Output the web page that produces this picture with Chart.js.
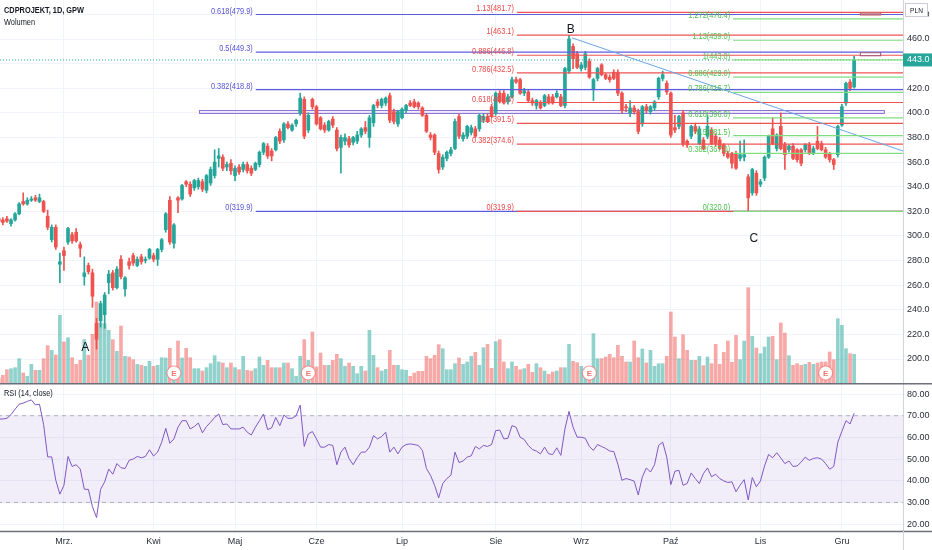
<!DOCTYPE html>
<html>
<head>
<meta charset="utf-8">
<script src="https://cdn.jsdelivr.net/npm/chart.js@4.4.1/dist/chart.umd.min.js"></script>
<style>
html,body{margin:0;padding:0;background:#ffffff;overflow:hidden;}
#wrap{position:relative;width:932px;height:550px;}
canvas{position:absolute;left:0;display:block;}
#cMain{top:0;}
#cRsi{top:383px;}
</style>
</head>
<body>
<div id="wrap">
<canvas id="cMain" width="932" height="383"></canvas>
<canvas id="cRsi" width="932" height="167"></canvas>
</div>
<script>
// ---------- DATA ----------
const opens = [314,313,314,310,313,318,328,326,329,331,
 328,328,316,297,307,277,288,295,301,303,
 293,267,276,270,229,231,236,262,270,258,
 281,257,279,284,276,283,280,282,284,281,
 289,305,329,294,331,330,344,342,339,340,
 344,337,343,349,363,364,356,359,349,356,
 354,358,355,354,358,368,373,369,370,385,
 378,391,386,391,400,411,386,411,405,396,
 390,386,395,386,372,377,379,376,377,382,
 388,380,392,409,406,408,414,401,391,396,
 402,408,409,408,404,398,382,382,367,356,
 363,367,371,397,379,381,384,387,387,394,
 397,405,400,416,416,409,413,427,427,416,
 417,410,406,408,406,413,413,413,413,406,
 434,454,448,436,437,442,419,428,439,431,
 429,433,433,416,405,400,404,401,391,405,
 401,404,413,428,424,416,388,389,400,377,
 381,389,375,378,381,386,381,378,374,367,
 367,367,363,364,348,335,351,342,347,364,
 387,371,389,374,370,373,370,370,370,374,
 367,377,375,370,367,362,366,390,408,425,
 421];
const highs = [316,315,316,314,319,327,335,331,332,333,
 334,329,321,309,309,286,291,307,303,306,
 295,283,278,273,233,247,254,272,272,275,
 284,267,282,286,283,285,283,290,286,290,
 298,319,332,310,332,342,345,344,346,347,
 346,350,356,370,371,366,360,362,357,358,
 360,360,357,360,369,376,375,371,381,387,
 392,393,391,395,416,413,400,412,406,397,
 392,394,397,388,382,383,381,381,385,388,
 393,398,407,411,412,413,416,403,402,404,
 407,410,411,409,405,399,384,383,369,366,
 369,372,395,399,384,390,390,389,399,399,
 399,407,417,418,418,415,429,429,428,420,
 419,412,411,410,415,415,415,418,415,437,
 463,456,450,441,450,444,428,437,440,432,
 431,435,435,417,407,410,406,403,406,407,
 406,410,429,434,426,417,398,398,402,378,
 390,391,389,380,398,388,383,380,375,369,
 368,369,377,378,350,355,353,346,365,382,
 396,383,400,376,374,375,371,371,375,376,
 373,389,377,372,368,363,390,407,425,427,
 446];
const lows = [310,309,311,308,312,317,325,325,328,328,
 327,319,305,295,289,262,272,293,294,295,
 283,260,269,242,208,226,225,253,256,257,
 265,251,273,276,275,277,278,281,279,276,
 287,303,293,290,319,329,340,332,337,338,
 336,335,341,347,356,353,353,350,345,350,
 352,351,349,353,356,366,363,361,369,375,
 376,387,385,389,398,379,384,403,390,386,
 384,385,388,369,351,374,372,374,375,380,
 383,372,389,404,404,406,392,391,389,395,
 400,405,404,403,397,384,378,366,351,354,
 361,365,370,379,377,379,382,380,385,392,
 392,396,398,408,407,407,412,424,415,414,
 409,406,403,403,405,407,407,412,405,404,
 432,436,436,434,435,428,410,426,430,427,
 425,427,414,400,401,397,399,383,389,400,
 399,402,411,426,415,380,384,387,373,372,
 379,383,374,370,379,374,373,370,365,363,
 355,354,361,361,320,333,333,340,345,363,
 374,369,370,354,368,362,360,357,368,366,
 366,370,369,363,360,354,364,389,406,418,
 420];
const closes = [312,311,312,313,318,326,326,329,330,329,
 331,320,307,307,291,279,284,306,296,296,
 290,270,271,251,216,245,252,269,258,273,
 267,266,276,278,281,279,281,289,281,289,
 297,318,295,309,329,341,342,334,345,345,
 338,349,354,360,365,355,358,353,355,352,
 358,353,351,359,368,375,365,365,380,377,
 391,388,390,394,412,381,398,405,391,387,
 386,393,390,371,380,380,374,380,382,387,
 385,396,406,406,411,412,394,393,401,403,
 406,406,405,405,398,385,380,368,354,364,
 368,370,393,381,382,389,388,381,398,397,
 393,397,416,409,408,413,427,425,416,418,
 410,408,410,404,414,408,408,416,406,436,
 460,444,437,439,448,429,427,436,431,428,
 427,428,416,402,404,404,401,385,405,402,
 405,409,428,431,417,382,386,397,375,374,
 389,385,387,371,389,375,375,371,367,364,
 359,355,366,366,331,354,335,344,364,381,
 375,382,371,366,373,363,362,359,374,367,
 371,371,370,364,362,358,389,405,424,420,
 443];
const volumes = [125,192,333,358,383,608,250,167,467,317,
 317,608,933,817,700,1692,1025,1133,633,467,
 567,1083,692,1217,2025,1500,1483,1317,1083,792,
 1425,667,650,583,467,442,417,542,417,442,
 633,625,867,383,1050,625,867,633,358,358,
 300,383,483,683,525,500,383,500,383,333,
 667,317,300,358,650,442,567,383,383,383,
 500,500,358,167,667,1083,567,1275,400,750,
 442,442,567,717,608,417,500,417,233,417,
 300,1317,692,383,300,342,817,442,442,333,
 317,167,250,292,292,667,608,692,958,858,
 333,333,483,625,467,525,667,767,442,883,
 967,367,1033,1083,525,358,525,417,333,358,
 467,267,483,383,300,217,275,300,383,383,
 967,542,508,417,350,300,1233,608,608,650,
 717,633,942,667,525,525,1050,633,850,500,
 817,417,483,483,667,1775,1150,608,1208,817,
 567,567,667,433,650,483,967,467,767,1050,
 517,1192,583,1050,2383,1167,875,733,900,1150,
 1167,583,1500,1250,683,442,483,442,467,517,
 467,500,525,525,775,583,1608,1442,858,733,
 717];
const rsiValues = [68.5,68.5,68.8,70.5,73,75.3,75.8,76.6,77.3,75,
 75.3,66,51,51,40.2,33.8,37.9,51.2,46.6,47.4,
 45.4,36.1,36,28,23,36,39.5,45.4,43,47.9,
 46,45.6,49.4,50,51.2,50.6,51.2,54.3,51.4,53.2,
 57.8,64.2,57.3,59.3,64.7,67.7,67.7,63.9,65,66.6,
 62.1,65,67,69.2,70.8,65.9,66.2,63.9,63.9,63.9,
 64.7,62.4,61.1,64.7,67.7,70.8,63.6,64.4,69.2,65.4,
 70.3,68.8,68.8,70,74.9,55.8,61.6,62.7,59.3,55.5,
 55.5,56.7,56.3,47.4,53.2,55.5,50.2,47.4,50.6,53.2,
 53.2,55.5,60.8,59.3,60.4,62.4,53.2,55.5,52.4,55.5,
 56.7,57,56.7,56.3,54,45.6,42.5,37.9,32.1,38.7,
 41,42.5,53.2,48.4,49.1,50.9,51.5,55.8,54.7,56.3,
 55.8,56.7,63.1,63.4,59.3,59.6,65.4,64.7,60.1,59,
 56.3,54.4,53.7,52.4,55.5,52.4,52.1,55.2,51.7,63.9,
 72,64.7,60.1,60.1,59.6,55.8,54,56.7,55.8,54.9,
 53.7,53.5,47.6,40.2,41,40.5,39.8,33.4,41.8,45.9,
 44,47.4,56.3,57.8,50.9,38.2,44.4,44.8,37.9,38.7,
 43.6,41,38.7,43.3,45.9,41.8,43,41,39.9,39.2,
 39.5,34.9,37.9,40.5,31.1,41.5,37.2,39.9,46.8,52.1,
 50.6,52.9,50.5,47.9,49.1,46.6,46.8,48.6,50.9,49.4,
 50.3,50.6,50,47.9,45.3,46.6,57.8,62.8,67.7,66.2,
 71.1];

const monthLabels = ['Mrz.','Kwi','Maj','Cze','Lip','Sie','Wrz','Paź','Lis','Gru'];
const monthIdx = [16,38,58,78,99,122,143,165,187,207];
const priceTicks = [200,220,240,260,280,300,320,340,360,380,400,420,440,460,480];
const rsiTicks = [20,30,40,50,60,70,80];

const blueFibLevels = [0,0.382,0.5,0.618];
const blueFibValues = [319.9,418.8,449.3,479.9];
const redFibLevels = [0,0.382,0.5,0.618,0.786,0.886,1,1.13];
const redFibValues = [319.9,374.6,391.5,408.4,432.5,446.8,463.1,481.7];
const greenFibLevels = [0,0.382,0.5,0.618,0.786,0.886,1,1.13,1.272];
const greenFibValues = [320.0,367.0,381.5,396.0,416.7,429.0,443.0,459.0,476.4];
const fibStartIdx = [63.1,127.2,180.3];          // blue, red, green
const trendIdx = [140.7,222];
const trendPrice = [461,369];
const rangeBoxIdx = [49.15,217.3];
const rangeBoxPrice = [399.9,402.3];
const smallBoxIdx = [211.4,216.4];
const waveLabels = ['A','B','C'];
const waveIdx = [21.2,140.4,185.4];
const wavePrice = [208.9,467.3,297.5];
const earningsIdx = [43,76,145,203];
const lastPrice = 443.0;

// ---------- STYLE ----------
const FONT = "'Liberation Sans',Arial,sans-serif";
const TXT = '#2a2e39';
const UP = '#26a69a', DN = '#ef5350';
const xMin = 0.3, xMax = 222.0;
const NARROW = 0.82;

const isUp = closes.map((c,i)=>c>=opens[i]);
const candleColors = isUp.map(u=>u?UP:DN);
const volColors = isUp.map(u=>u?'rgba(38,166,154,0.5)':'rgba(239,83,80,0.5)');

function hLine(startIdx, price, color, order, width){
  return {type:'line', data:[{x:startIdx,y:price},{x:240,y:price}], borderColor:color,
    borderWidth:width||1, pointRadius:0, pointHoverRadius:0, fill:false, order:order, yAxisID:'y'};
}
function narrowText(ctx, text, x, y, align){
  ctx.save(); ctx.translate(x, y); ctx.scale(NARROW, 1); ctx.textAlign = align; ctx.fillText(text, 0, 0); ctx.restore();
}

const mainPlugin = {
  id:'mainAnnot',
  beforeDatasetsDraw(chart){
    const {ctx, scales:{x, y}} = chart;
    ctx.save();
    const x1 = x.getPixelForValue(rangeBoxIdx[0]), x2 = x.getPixelForValue(rangeBoxIdx[1]);
    const y1 = y.getPixelForValue(rangeBoxPrice[1]), y2 = y.getPixelForValue(rangeBoxPrice[0]);
    ctx.fillStyle = 'rgba(149,117,205,0.12)';
    ctx.fillRect(x1, y1, x2-x1, y2-y1);
    ctx.strokeStyle = '#8f72d8'; ctx.lineWidth = 1;
    ctx.strokeRect(x1+0.5, y1+0.5, x2-x1, y2-y1);
    ctx.restore();
  },
  afterDatasetsDraw(chart){
    const {ctx, chartArea:ca, scales:{x, y}} = chart;
    ctx.save();
    const bx1 = x.getPixelForValue(smallBoxIdx[0]), bx2 = x.getPixelForValue(smallBoxIdx[1]);
    let t = y.getPixelForValue(redFibValues[7]), b = y.getPixelForValue(blueFibValues[3]);
    ctx.fillStyle = 'rgba(196,160,165,0.85)'; ctx.fillRect(bx1, t, bx2-bx1, b-t);
    ctx.strokeStyle = '#d05a5a'; ctx.lineWidth = 1; ctx.strokeRect(bx1+0.5, t+0.5, bx2-bx1, b-t);
    t = y.getPixelForValue(blueFibValues[2]); b = y.getPixelForValue(redFibValues[5]);
    ctx.fillStyle = 'rgba(255,255,255,0.9)'; ctx.fillRect(bx1, t, bx2-bx1, b-t);
    ctx.strokeStyle = '#9a4f78'; ctx.strokeRect(bx1+0.5, t+0.5, bx2-bx1, b-t);

    ctx.font = '9px ' + FONT; ctx.textBaseline = 'middle';
    const drawFib = (levels, vals, start, color) => {
      const xs = x.getPixelForValue(start) - 3;
      ctx.fillStyle = color;
      levels.forEach((l,k)=>{ narrowText(ctx, l + '(' + vals[k].toFixed(1) + ')', xs, y.getPixelForValue(vals[k]) - 3.5, 'right'); });
    };
    drawFib(blueFibLevels, blueFibValues, fibStartIdx[0], '#5553d8');
    drawFib(redFibLevels, redFibValues, fibStartIdx[1], '#ec4848');
    drawFib(greenFibLevels, greenFibValues, fibStartIdx[2], '#4fc44f');

    ctx.font = '12px ' + FONT; ctx.textAlign = 'center'; ctx.fillStyle = '#131722';
    waveLabels.forEach((s,k)=>{ ctx.fillText(s, x.getPixelForValue(waveIdx[k]), y.getPixelForValue(wavePrice[k])); });

    earningsIdx.forEach(idx=>{
      const cx = x.getPixelForValue(idx), cy = ca.bottom - 10;
      ctx.beginPath(); ctx.arc(cx, cy, 7, 0, Math.PI*2);
      ctx.fillStyle = '#ffffff'; ctx.fill();
      ctx.strokeStyle = 'rgba(239,83,80,0.55)'; ctx.lineWidth = 1.2; ctx.stroke();
      ctx.fillStyle = '#ef7573'; ctx.font = 'bold 8px ' + FONT; ctx.textAlign = 'center';
      ctx.fillText('E', cx, cy + 0.5);
    });
    ctx.restore();
  },
  afterDraw(chart){
    const {ctx, chartArea:ca, scales:{y}} = chart;
    ctx.save();
    ctx.textBaseline = 'middle';
    ctx.fillStyle = '#131722';
    ctx.font = 'bold 9px ' + FONT; narrowText(ctx, 'CDPROJEKT, 1D, GPW', 4, 11, 'left');
    ctx.font = '9px ' + FONT; narrowText(ctx, 'Wolumen', 4, 23, 'left');
    const yp = y.getPixelForValue(lastPrice);
    ctx.fillStyle = UP; ctx.fillRect(ca.right, yp - 6.5, 29, 13);
    ctx.fillStyle = '#ffffff'; ctx.font = '9px ' + FONT; ctx.textAlign = 'left';
    ctx.fillText(lastPrice.toFixed(1), ca.right + 4, yp);
    ctx.fillStyle = '#ffffff'; ctx.fillRect(905, 3, 23, 14);
    ctx.strokeStyle = '#c9ccd3'; ctx.lineWidth = 1; ctx.strokeRect(905.5, 3.5, 22, 13);
    ctx.fillStyle = '#131722'; ctx.font = '8px ' + FONT;
    narrowText(ctx, 'PLN', 916.5, 10.5, 'center');
    ctx.restore();
  }
};

new Chart(document.getElementById('cMain'), {
  type:'bar',
  data:{ datasets:[
    ...greenFibValues.map(v=>hLine(fibStartIdx[2], v, '#80dd80', 0, 1.2)),
    {type:'line', data: trendIdx.map((xv,k)=>({x:xv, y:trendPrice[k]})), borderColor:'#6aa5e6', borderWidth:1, pointRadius:0, fill:false, order:0.05, yAxisID:'y'},
    ...redFibValues.map(v=>hLine(fibStartIdx[1], v, '#f05252', 0.1, 1.2)),
    ...blueFibValues.map(v=>hLine(fibStartIdx[0], v, '#5c5ce0', 0.2, 1.2)),
    {type:'line', data:[{x:-10,y:lastPrice},{x:240,y:lastPrice}], borderColor:UP, borderWidth:1, borderDash:[1,2], pointRadius:0, fill:false, order:0.3, yAxisID:'y'},
    {type:'bar', data: closes.map((c,i)=>({x:i, y:[opens[i], c]})), backgroundColor:candleColors, barThickness:3, minBarLength:1, grouped:false, order:1, yAxisID:'y'},
    {type:'bar', data: closes.map((c,i)=>({x:i, y:[lows[i], highs[i]]})), backgroundColor:candleColors, barThickness:1, grouped:false, order:2, yAxisID:'y'},
    {type:'bar', data: volumes.map((v,i)=>({x:i, y:v})), backgroundColor:volColors, barThickness:3, grouped:false, order:10, yAxisID:'yv'}
  ]},
  options:{
    responsive:false, animation:false, events:[],
    layout:{padding:0},
    plugins:{legend:{display:false}, tooltip:{enabled:false}},
    scales:{
      x:{type:'linear', min:xMin, max:xMax, offset:false,
        afterBuildTicks:s=>{ s.ticks = monthIdx.map(v=>({value:v})); },
        ticks:{display:false}, grid:{color:'#f0f3fa', drawTicks:false, offset:false}, border:{display:false},
        afterFit:s=>{ s.height = 0; s.paddingLeft = 0; s.paddingRight = 0; }},
      y:{type:'linear', position:'right', min:180.5, max:491.7,
        afterBuildTicks:s=>{ s.ticks = priceTicks.map(v=>({value:v})); },
        ticks:{callback:v=>Number(v).toFixed(1), color:TXT, font:{size:9, family:FONT}, padding:4},
        grid:{color:'#f0f3fa', drawTicks:false}, border:{display:true, color:'#d1d4dc'},
        afterFit:s=>{ s.width = 29; s.paddingTop = 0; s.paddingBottom = 0; }},
      yv:{type:'linear', display:false, min:0, max:9575}
    }
  },
  plugins:[mainPlugin]
});

const rsiPlugin = {
  id:'rsiAnnot',
  afterDraw(chart){
    const {ctx, chartArea:ca} = chart;
    ctx.save();
    ctx.strokeStyle = '#6d707a'; ctx.lineWidth = 1.5;
    ctx.beginPath(); ctx.moveTo(0, 0.75); ctx.lineTo(932, 0.75); ctx.stroke();
    ctx.beginPath(); ctx.moveTo(0, ca.bottom + 0.5); ctx.lineTo(932, ca.bottom + 0.5); ctx.stroke();
    ctx.strokeStyle = '#d1d4dc'; ctx.lineWidth = 1;
    ctx.beginPath(); ctx.moveTo(ca.right + 0.5, ca.bottom); ctx.lineTo(ca.right + 0.5, 167); ctx.stroke();
    ctx.fillStyle = '#131722'; ctx.font = '9px ' + FONT; ctx.textBaseline = 'middle';
    narrowText(ctx, 'RSI (14, close)', 4, 11, 'left');
    ctx.restore();
  }
};

new Chart(document.getElementById('cRsi'), {
  type:'line',
  data:{ datasets:[
    {data:[{x:-10,y:70},{x:240,y:70}], borderColor:'rgba(120,123,134,0.55)', borderDash:[4,4], borderWidth:1, pointRadius:0, fill:'+1', backgroundColor:'rgba(126,87,194,0.1)', order:2},
    {data:[{x:-10,y:30},{x:240,y:30}], borderColor:'rgba(120,123,134,0.55)', borderDash:[4,4], borderWidth:1, pointRadius:0, fill:false, order:2},
    {data: rsiValues.map((v,i)=>({x:i, y:v})), borderColor:'#7e57c2', borderWidth:1, pointRadius:0, fill:false, tension:0, order:0}
  ]},
  options:{
    responsive:false, animation:false, events:[],
    layout:{padding:0},
    plugins:{legend:{display:false}, tooltip:{enabled:false}},
    scales:{
      x:{type:'linear', min:xMin, max:xMax, offset:false,
        afterBuildTicks:s=>{ s.ticks = monthIdx.map(v=>({value:v})); },
        ticks:{callback:(v,i)=>monthLabels[i], color:TXT, font:{size:9, family:FONT}, padding:5, maxRotation:0, autoSkip:false},
        grid:{color:'#f0f3fa', drawTicks:false}, border:{display:false},
        afterFit:s=>{ s.height = 19; s.paddingLeft = 0; s.paddingRight = 0; }},
      y:{type:'linear', position:'right', min:16.8, max:85.1,
        afterBuildTicks:s=>{ s.ticks = rsiTicks.map(v=>({value:v})); },
        ticks:{callback:v=>Number(v).toFixed(2), color:TXT, font:{size:9, family:FONT}, padding:4},
        grid:{color:'#f0f3fa', drawTicks:false}, border:{display:true, color:'#d1d4dc'},
        afterFit:s=>{ s.width = 29; s.paddingTop = 0; s.paddingBottom = 0; }}
    }
  },
  plugins:[rsiPlugin]
});
</script>
</body>
</html>
